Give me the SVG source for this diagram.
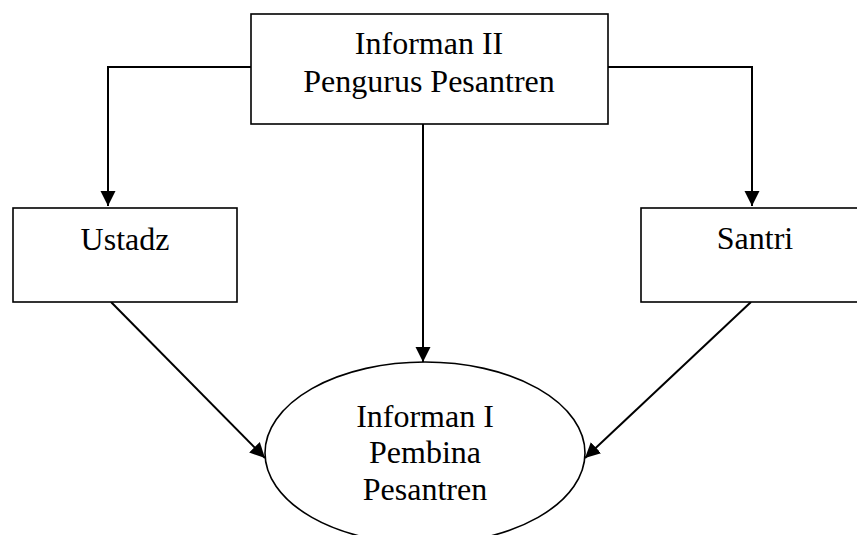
<svg xmlns="http://www.w3.org/2000/svg" width="857" height="535" viewBox="0 0 857 535">
  <style>
    .box { fill: #fff; stroke: #000; stroke-width: 1.6; }
    .conn { fill: none; stroke: #000; stroke-width: 2; }
    text { font-family: "Liberation Serif", "Times New Roman", serif; font-size: 32px; fill: #000; text-anchor: middle; }
  </style>
  <defs>
    <marker id="arr" markerUnits="userSpaceOnUse" markerWidth="16" markerHeight="16" viewBox="0 0 16 16" refX="15" refY="8" orient="auto">
      <path d="M0,0.5 L15,8 L0,15.5 Z" fill="#000"/>
    </marker>
  </defs>
  <g id="connectors">
    <path class="conn" d="M251,67 H108 V206" marker-end="url(#arr)"/>
    <path class="conn" d="M608,67 H752 V206" marker-end="url(#arr)"/>
    <path class="conn" d="M423,124 V362" marker-end="url(#arr)"/>
    <path class="conn" d="M111,302 L265,458" marker-end="url(#arr)"/>
    <path class="conn" d="M751,302 L585,458" marker-end="url(#arr)"/>
  </g>
  <g id="informan2">
    <rect class="box" x="251" y="14" width="357" height="110"/>
    <text x="429" y="54">Informan II</text>
    <text x="429" y="92">Pengurus Pesantren</text>
  </g>
  <g id="ustadz">
    <rect class="box" x="13" y="208" width="224" height="94"/>
    <text x="125" y="250">Ustadz</text>
  </g>
  <g id="santri">
    <rect class="box" x="641" y="208" width="230" height="94"/>
    <text x="755" y="249">Santri</text>
  </g>
  <g id="informan1">
    <ellipse class="box" cx="425" cy="453" rx="160" ry="91"/>
    <text x="425" y="427">Informan I</text>
    <text x="425" y="463">Pembina</text>
    <text x="425" y="500">Pesantren</text>
  </g>
</svg>
